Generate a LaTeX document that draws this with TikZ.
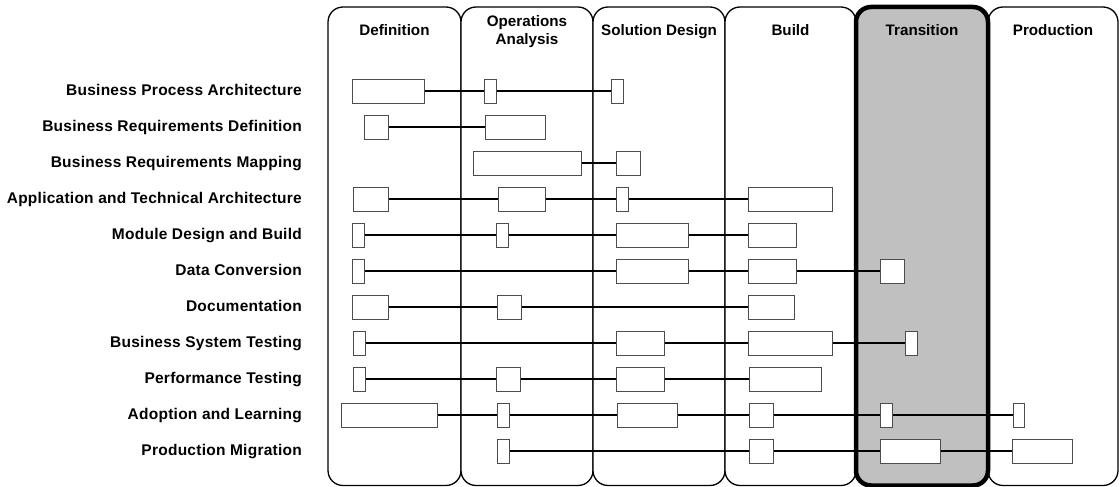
\documentclass[tikz,border=0pt]{standalone}
\usepackage{fontspec}
\setmainfont{Liberation Sans}
\newfontfamily\labfont[LetterSpace=1.6]{Liberation Sans}
\pgfdeclarelayer{cols}
\pgfdeclarelayer{lines}
\pgfsetlayers{cols,lines,main}
\definecolor{transgray}{HTML}{C0C0C0}
\begin{document}
\begin{tikzpicture}[x=1pt,y=-1pt,
  col/.style={draw=black, line width=1.3pt, rounded corners=15pt, fill=white, minimum width=#1, minimum height=478.5, inner sep=0pt},
  transcol/.style={draw=black, line width=4.5pt, rounded corners=15pt, fill=transgray, minimum width=#1, minimum height=478.5, inner sep=0pt},
  head/.style={font=\fontsize{15.2}{17.6}\selectfont\bfseries, anchor=base, inner sep=0pt},
  lab/.style={font=\labfont\fontsize{15.5}{18}\selectfont\bfseries, anchor=base east, inner sep=0pt},
  bx/.style={draw=black!70, line width=0.9pt, fill=white, minimum height=24, minimum width=#1, inner sep=0pt},
  conn/.style={draw=black, line width=1.15pt}]
\useasboundingbox (0,0) rectangle (1120,487);

\begin{pgfonlayer}{cols}
\node[col=133] (cDef) at (394.5,246.25) {};
\node[col=132] (cOpa) at (527,246.25) {};
\node[col=132] (cSol) at (659,246.25) {};
\node[col=131] (cBld) at (790.5,246.25) {};
\node[col=130] (cPrd) at (1053,246.25) {};
\node[transcol=132] (cTrn) at (922,246.25) {};
\end{pgfonlayer}

% headers
\node[head] (hDef) at (394.5,36) {Definition};
\node[head] (hOpa1) at (527,26.7) {Operations};
\node[head] (hOpa2) at (527,44.3) {Analysis};
\node[head] (hSol) at (659,36) {Solution Design};
\node[head] (hBld) at (790.5,36) {Build};
\node[head] (hTrn) at (922,36) {Transition};
\node[head] (hPrd) at (1053,36) {Production};

% row labels
\node[lab] (l1) at (302,95.5) {Business Process Architecture};
\node[lab] (l2) at (302,131.5) {Business Requirements Definition};
\node[lab] (l3) at (302,167.5) {Business Requirements Mapping};
\node[lab] (l4) at (302,203.5) {Application and Technical Architecture};
\node[lab] (l5) at (302,239.5) {Module Design and Build};
\node[lab] (l6) at (302,275.5) {Data Conversion};
\node[lab] (l7) at (302,311.5) {Documentation};
\node[lab] (l8) at (302,347.5) {Business System Testing};
\node[lab] (l9) at (302,383.5) {Performance Testing};
\node[lab] (l10) at (302,419.5) {Adoption and Learning};
\node[lab] (l11) at (302,455.5) {Production Migration};

% row 1
\node[bx=72] (r1a) at (388.5,91) {};
\node[bx=12] (r1b) at (490.5,91) {};
\node[bx=12] (r1c) at (617,91) {};
% row 2
\node[bx=24] (r2a) at (376.5,127) {};
\node[bx=60] (r2b) at (515,127) {};
% row 3
\node[bx=108] (r3a) at (527,163) {};
\node[bx=24] (r3b) at (628.7,163) {};
% row 4
\node[bx=35] (r4a) at (370.7,199) {};
\node[bx=47] (r4b) at (521.5,199) {};
\node[bx=12] (r4c) at (622.8,199) {};
\node[bx=84] (r4d) at (790.7,199) {};
% row 5
\node[bx=12] (r5a) at (358.7,235) {};
\node[bx=12] (r5b) at (502.5,235) {};
\node[bx=72] (r5c) at (652.7,235) {};
\node[bx=48] (r5d) at (772.8,235) {};
% row 6
\node[bx=12] (r6a) at (358.7,271) {};
\node[bx=72] (r6b) at (652.7,271) {};
\node[bx=48] (r6c) at (772.8,271) {};
\node[bx=24] (r6d) at (892.8,271) {};
% row 7
\node[bx=36] (r7a) at (370.8,307) {};
\node[bx=24] (r7b) at (509.2,307) {};
\node[bx=46] (r7c) at (771.8,307) {};
% row 8
\node[bx=12] (r8a) at (359,343) {};
\node[bx=48] (r8b) at (640.8,343) {};
\node[bx=84] (r8c) at (790.7,343) {};
\node[bx=12] (r8d) at (911,343) {};
% row 9
\node[bx=12] (r9a) at (359,379) {};
\node[bx=24] (r9b) at (508.7,379) {};
\node[bx=48] (r9c) at (640.8,379) {};
\node[bx=72] (r9d) at (785,379) {};
% row 10
\node[bx=96] (r10a) at (389,415) {};
\node[bx=12] (r10b) at (503.2,415) {};
\node[bx=60] (r10c) at (647.3,415) {};
\node[bx=24] (r10d) at (761,415) {};
\node[bx=12] (r10e) at (886.5,415) {};
\node[bx=11] (r10f) at (1018.7,415) {};
% row 11
\node[bx=12] (r11a) at (503.2,451) {};
\node[bx=24] (r11b) at (761,451) {};
\node[bx=60] (r11c) at (910.3,451) {};
\node[bx=60] (r11d) at (1042.7,451) {};

\begin{pgfonlayer}{lines}
\draw[conn] (r1a.east) -- (r1b.west) (r1b.east) -- (r1c.west);
\draw[conn] (r2a.east) -- (r2b.west);
\draw[conn] (r3a.east) -- (r3b.west);
\draw[conn] (r4a.east) -- (r4b.west) (r4b.east) -- (r4c.west) (r4c.east) -- (r4d.west);
\draw[conn] (r5a.east) -- (r5b.west) (r5b.east) -- (r5c.west) (r5c.east) -- (r5d.west);
\draw[conn] (r6a.east) -- (r6b.west) (r6b.east) -- (r6c.west) (r6c.east) -- (r6d.west);
\draw[conn] (r7a.east) -- (r7b.west) (r7b.east) -- (r7c.west);
\draw[conn] (r8a.east) -- (r8b.west) (r8b.east) -- (r8c.west) (r8c.east) -- (r8d.west);
\draw[conn] (r9a.east) -- (r9b.west) (r9b.east) -- (r9c.west) (r9c.east) -- (r9d.west);
\draw[conn] (r10a.east) -- (r10b.west) (r10b.east) -- (r10c.west) (r10c.east) -- (r10d.west) (r10d.east) -- (r10e.west) (r10e.east) -- (r10f.west);
\draw[conn] (r11a.east) -- (r11b.west) (r11b.east) -- (r11c.west) (r11c.east) -- (r11d.west);
\end{pgfonlayer}
\end{tikzpicture}
\end{document}
